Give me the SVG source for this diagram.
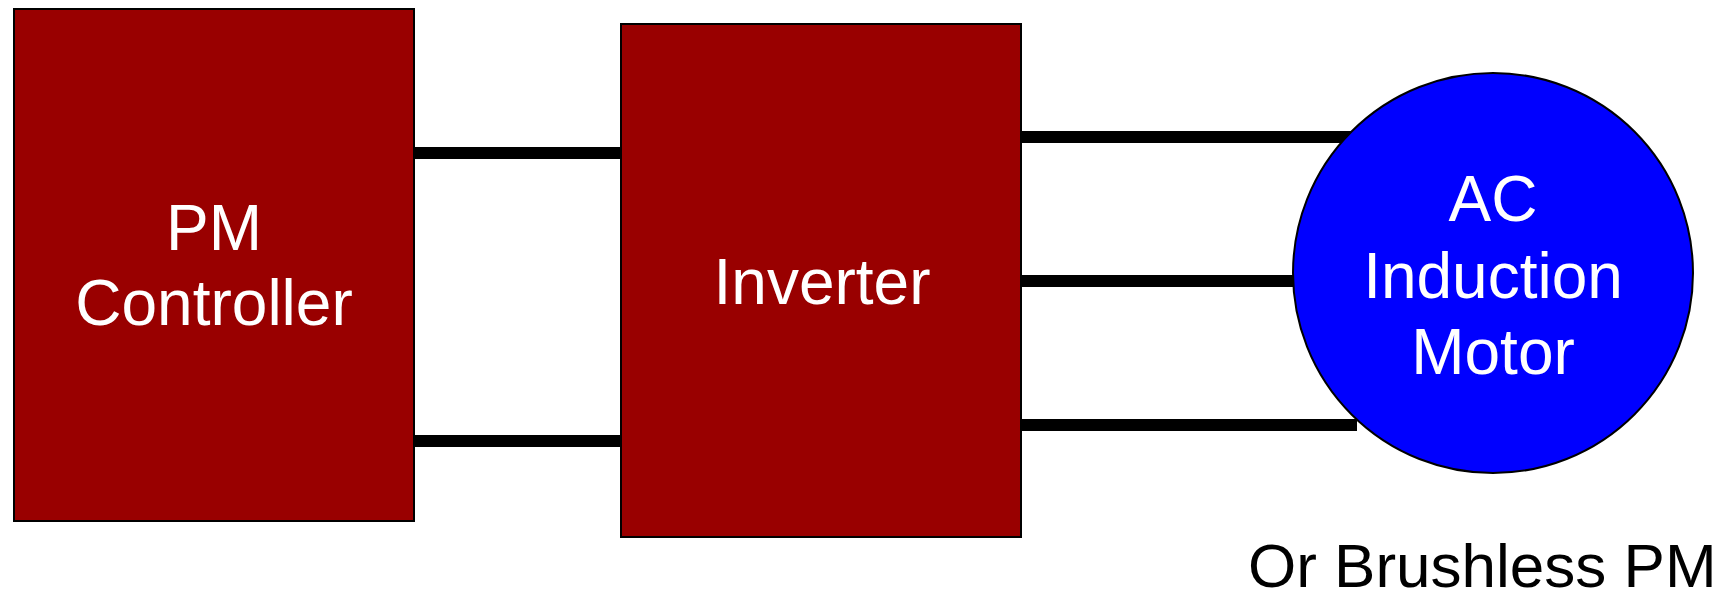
<svg xmlns="http://www.w3.org/2000/svg" width="1736" height="597" viewBox="0 0 1736 597">
<style>
.box{fill:#990000;stroke:#000;stroke-width:2}
.motor{fill:#0000ff;stroke:#000;stroke-width:2}
.wire{stroke:#000;stroke-width:12;fill:none}
.lbl{font-family:"Liberation Sans",Arial,sans-serif;font-size:64px;fill:#fff;text-anchor:middle}
.note{font-family:"Liberation Sans",Arial,sans-serif;font-size:62px;fill:#000}
</style>
<rect width="1736" height="597" fill="#fff"/>
<g id="connectors">
<line class="wire" x1="414" y1="153" x2="621" y2="153"/>
<line class="wire" x1="414" y1="441" x2="621" y2="441"/>
<line class="wire" x1="1021" y1="137" x2="1352" y2="137"/>
<line class="wire" x1="1021" y1="281" x2="1294" y2="281"/>
<line class="wire" x1="1021" y1="425" x2="1357" y2="425"/>
</g>
<g id="pm-controller">
<rect class="box" x="14" y="9" width="400" height="512"/>
<text class="lbl" x="214" y="250">PM</text>
<text class="lbl" x="214" y="325">Controller</text>
</g>
<g id="inverter">
<rect class="box" x="621" y="24" width="400" height="513"/>
<text class="lbl" x="822" y="304">Inverter</text>
</g>
<g id="motor">
<circle class="motor" cx="1493" cy="273" r="200"/>
<text class="lbl" x="1493" y="221">AC</text>
<text class="lbl" x="1493" y="298">Induction</text>
<text class="lbl" x="1493" y="374">Motor</text>
</g>
<g id="note">
<text class="note" x="1248" y="587">Or Brushless PM</text>
</g>
</svg>
